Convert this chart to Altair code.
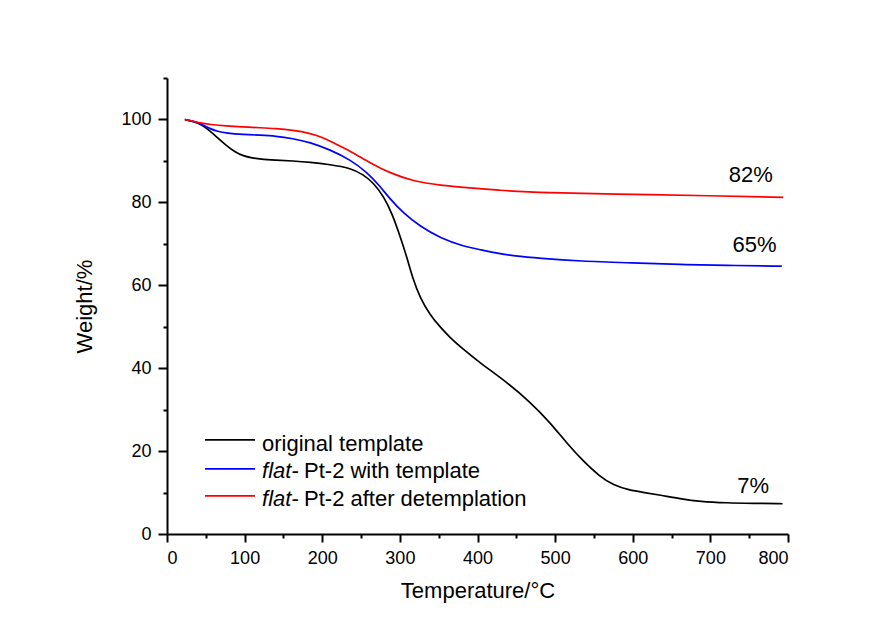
import altair as alt
import pandas as pd

FONT = "Liberation Sans"

# ---- data ----
black_T = [23, 35, 45, 55, 65, 77, 88, 98, 110, 120, 140, 162, 184, 210, 236, 253, 266, 279, 290,
           300, 309, 317, 326, 339, 352, 365, 380, 403, 438, 468, 494, 515, 536, 558, 575, 595,
           615, 635, 661, 687, 720, 760, 793]
black_W = [100, 99.5, 98.7, 97.3, 95.6, 93.6, 92.1, 91.2, 90.7, 90.4, 90.2, 90.0, 89.7, 89.1, 88.3,
           86.7, 84.7, 81.5, 77.3, 72.0, 66.8, 61.4, 57.0, 52.8, 49.9, 47.3, 44.8, 41.3, 36.6,
           31.8, 26.8, 21.9, 17.6, 13.8, 11.8, 10.6, 10.0, 9.4, 8.5, 7.8, 7.5, 7.4, 7.3]

blue_T = [23, 35, 45, 55, 65, 77, 98, 120, 140, 162, 184, 210, 236, 258, 274, 287, 304, 326, 352,
          382, 403, 429, 446, 480, 532, 600, 661, 720, 792]
blue_W = [100, 99.5, 98.8, 97.8, 97.1, 96.7, 96.4, 96.2, 96.0, 95.4, 94.5, 92.7, 90.3, 87.2, 84.0,
          80.9, 77.5, 74.2, 71.4, 69.4, 68.6, 67.6, 67.1, 66.5, 65.8, 65.4, 65.0, 64.8, 64.6]

red_T = [23, 35, 45, 55, 77, 98, 120, 140, 162, 184, 200, 215, 236, 262, 287, 317, 352, 390, 429,
         468, 575, 704, 794]
red_W = [100, 99.5, 99.1, 98.8, 98.4, 98.2, 98.0, 97.8, 97.4, 96.7, 95.7, 94.3, 92.4, 89.5, 87.1,
         85.1, 84.1, 83.5, 82.9, 82.4, 82.0, 81.6, 81.2]

series_names = ["original template", "flat- Pt-2 with template", "flat- Pt-2 after detemplation"]
series_colors = ["#000000", "#0000ff", "#ff0000"]

# legend entries (positions in data units)
leg_x1 = [49, 49, 49]
leg_x2 = [113.4, 113.4, 113.4]
leg_line_y = [22.7, 15.7, 9.2]
leg_text_x = [122.4, 122.4, 122.4]
leg_text_y = [20.05, 13.45, 6.76]
leg_italic = ["", "flat-", "flat-"]
leg_plain = ["original template", "Pt-2 with template", "Pt-2 after detemplation"]
leg_plain_dx = [0, 42, 42]

# end-value annotations
ann_text = ["82%", "65%", "7%"]
ann_T = [752, 757, 755]
ann_W = [84.86, 67.95, 9.9]

x_major = list(range(0, 801, 100))
x_minor = list(range(50, 800, 100))
y_major = list(range(0, 101, 20))
y_minor = list(range(10, 111, 20))

# ---- tables ----
rows = []
for name, T, W in zip(series_names, [black_T, blue_T, red_T], [black_W, blue_W, red_W]):
    for t, w in zip(T, W):
        rows.append({"T": t, "W": w, "series": name})
df = pd.DataFrame(rows)

leg_df = pd.DataFrame({
    "x1": leg_x1, "x2": leg_x2, "y": leg_line_y, "series": series_names,
    "tx": leg_text_x, "ty": leg_text_y, "ital": leg_italic, "plain": leg_plain, "dx": leg_plain_dx,
})
ann_df = pd.DataFrame({"T": ann_T, "W": ann_W, "text": ann_text})

xscale = alt.Scale(domain=[0, 800], nice=False, zero=False)
yscale = alt.Scale(domain=[0, 110], nice=False, zero=False)
color = alt.Color("series:N", scale=alt.Scale(domain=series_names, range=series_colors), legend=None)

common = dict(grid=False, ticks=True, domainColor="black", domainWidth=2, tickColor="black",
              tickWidth=2, tickOpacity=1,
              labelFont=FONT, labelFontSize=18, labelColor="black", labelPadding=7,
              titleFont=FONT, titleFontSize=22, titleFontWeight="normal", titleColor="black")

x_axis = alt.Axis(values=x_major, tickSize=8, title="Temperature/°C", orient="bottom",
                  titlePadding=13, **common)
y_axis = alt.Axis(values=y_major, tickSize=9, title="Weight/%", orient="left",
                  titlePadding=24, **common)

x_axis_minor = alt.Axis(values=x_minor, tickSize=4, labels=False, domain=False, title=None,
                        orient="bottom", grid=False, ticks=True, tickColor="black", tickWidth=2,
                        tickOpacity=1)
y_axis_minor = alt.Axis(values=y_minor, tickSize=4, labels=False, domain=False, title=None,
                        orient="left", grid=False, ticks=True, tickColor="black", tickWidth=2,
                        tickOpacity=1)

lines = alt.Chart(df).mark_line(strokeWidth=1.7, interpolate="basis").encode(
    x=alt.X("T:Q", scale=xscale, axis=x_axis),
    y=alt.Y("W:Q", scale=yscale, axis=y_axis),
    color=color,
    detail="series:N",
)

minor = alt.Chart(df).mark_point(opacity=0).encode(
    x=alt.X("T:Q", scale=xscale, axis=x_axis_minor),
    y=alt.Y("W:Q", scale=yscale, axis=y_axis_minor),
)

leg_lines = alt.Chart(leg_df).mark_rule(strokeWidth=1.7).encode(
    x=alt.X("x1:Q", scale=xscale, axis=None),
    x2="x2:Q",
    y=alt.Y("y:Q", scale=yscale, axis=None),
    color=color,
)

leg_ital = alt.Chart(leg_df).mark_text(
    font=FONT, fontSize=22, fontStyle="italic", align="left", baseline="alphabetic", color="black"
).encode(
    x=alt.X("tx:Q", scale=xscale, axis=None), y=alt.Y("ty:Q", scale=yscale, axis=None), text="ital:N"
)

leg_plain_layers = []
for i in range(3):
    sub = leg_df.iloc[[i]]
    leg_plain_layers.append(
        alt.Chart(sub).mark_text(
            font=FONT, fontSize=22, align="left", baseline="alphabetic", color="black",
            dx=int(leg_plain_dx[i]),
        ).encode(x=alt.X("tx:Q", scale=xscale, axis=None), y=alt.Y("ty:Q", scale=yscale, axis=None),
                 text="plain:N")
    )

ann = alt.Chart(ann_df).mark_text(
    font=FONT, fontSize=22, align="center", baseline="alphabetic", color="black"
).encode(x=alt.X("T:Q", scale=xscale, axis=None), y=alt.Y("W:Q", scale=yscale, axis=None),
         text="text:N")

chart = alt.layer(lines, minor, leg_lines, leg_ital, *leg_plain_layers, ann).resolve_axis(
    x="independent", y="independent"
).properties(
    width=621, height=456,
    autosize=alt.AutoSizeParams(type="none"),
    padding={"left": 167, "top": 78, "right": 100, "bottom": 88},
    background="white",
).configure_view(stroke=None)

chart.save("out.html", embed_options={"renderer": "svg", "actions": False})
